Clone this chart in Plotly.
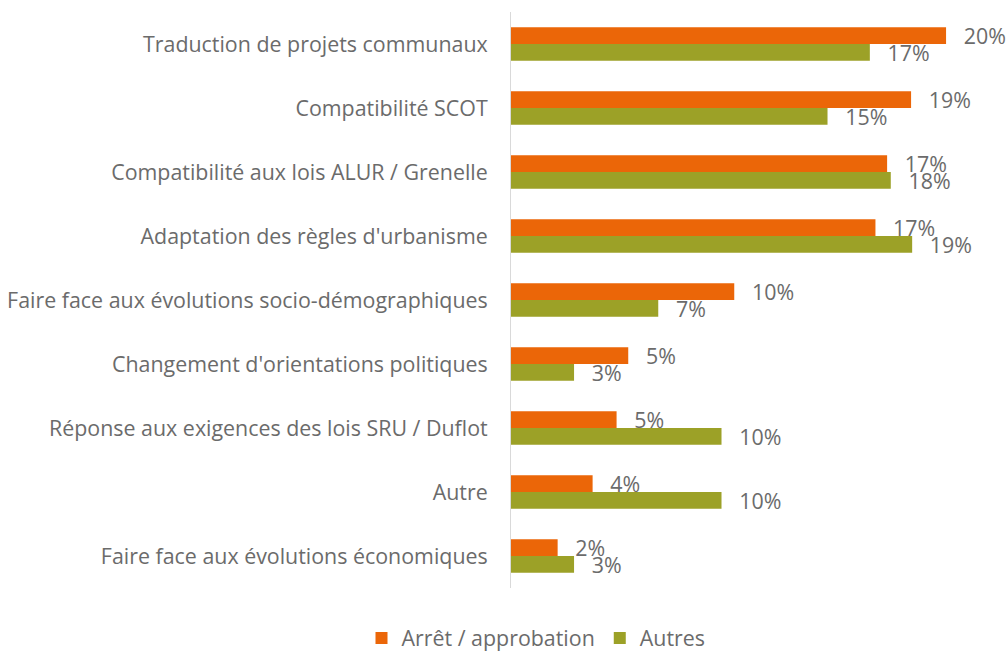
import plotly.graph_objects as go

categories = [
    "Traduction de projets communaux",
    "Compatibilité SCOT",
    "Compatibilité aux lois ALUR / Grenelle",
    "Adaptation des règles d'urbanisme",
    "Faire face aux évolutions socio-démographiques",
    "Changement d'orientations politiques",
    "Réponse aux exigences des lois SRU / Duflot",
    "Autre",
    "Faire face aux évolutions économiques",
]
arret_values = [20.15, 18.53, 17.42, 16.88, 10.34, 5.43, 4.89, 3.78, 2.16]
arret_labels = ["20%", "19%", "17%", "17%", "10%", "5%", "5%", "4%", "2%"]
autres_values = [16.62, 14.66, 17.59, 18.58, 6.82, 2.92, 9.75, 9.75, 2.92]
autres_labels = ["17%", "15%", "18%", "19%", "7%", "3%", "10%", "10%", "3%"]

FONT = "Open Sans"
TXT = "#6B6B6B"
SIZE = 21.4
PAD = "\u00a0\u00a0\u2009"

fig = go.Figure()
fig.add_trace(go.Bar(
    y=categories, x=arret_values, orientation="h", name="Arrêt / approbation",
    marker=dict(color="#EB6608", line=dict(width=0)),
    text=[PAD + t for t in arret_labels], textposition="outside",
    constraintext="none", cliponaxis=False,
    textfont=dict(family=FONT, size=SIZE, color=TXT),
))
fig.add_trace(go.Bar(
    y=categories, x=autres_values, orientation="h", name="Autres",
    marker=dict(color="#9CA127", line=dict(width=0)),
    text=[PAD + t for t in autres_labels], textposition="outside",
    constraintext="none", cliponaxis=False,
    textfont=dict(family=FONT, size=SIZE, color=TXT),
))

fig.update_layout(
    width=1007, height=651,
    margin=dict(l=511, r=21, t=12, b=63, autoexpand=False),
    paper_bgcolor="white", plot_bgcolor="white",
    barmode="group", bargap=0.48, bargroupgap=0,
    font=dict(family=FONT, size=SIZE, color=TXT),
    showlegend=True,
    legend=dict(
        orientation="h", xref="container", yref="container",
        x=536 / 1007, xanchor="center", y=1 - 638 / 651, yanchor="middle",
        font=dict(family=FONT, size=SIZE, color=TXT),
        itemwidth=30, traceorder="normal",
    ),
    xaxis=dict(range=[0, 22], showgrid=False, zeroline=False, showline=False,
               showticklabels=False, ticks=""),
    yaxis=dict(autorange="reversed", showgrid=False, showline=True,
               linecolor="#D9D9D9", linewidth=1, ticks="",
               ticklabelstandoff=18,
               tickfont=dict(family=FONT, size=SIZE, color=TXT)),
)

fig.write_html(
    "out.html",
    config={"displayModeBar": False},
    post_script="document.body.style.margin='0';document.body.style.padding='0';",
)
